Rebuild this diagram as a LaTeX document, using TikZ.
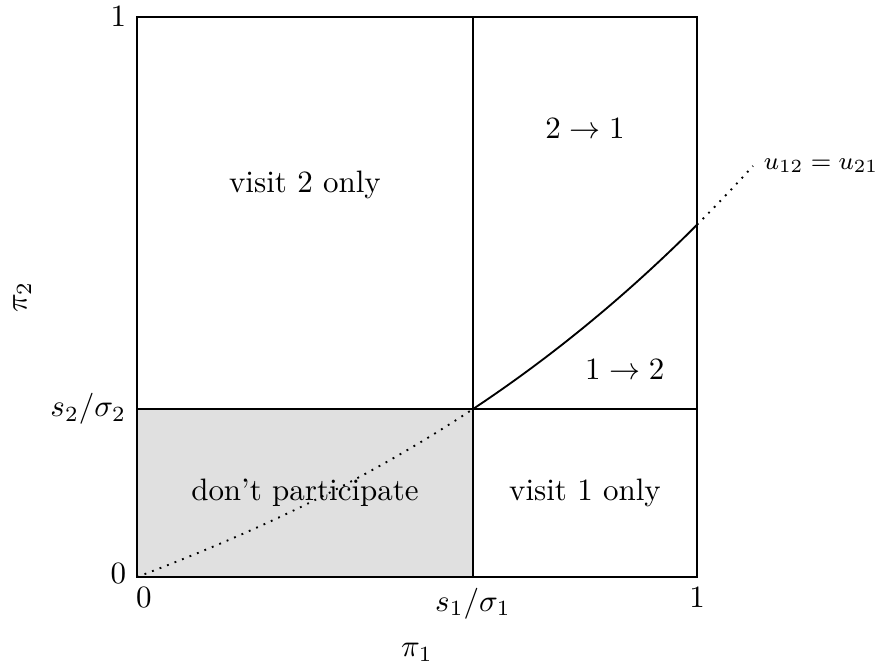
\documentclass[tikz,border=0pt]{standalone}
\usepackage{amsmath,amssymb}
\usepackage{tikz}
\usetikzlibrary{positioning,calc}

\begin{document}
\begin{tikzpicture}[
  x=6.35cm, y=6.35cm,
  declare function={f(\t)=0.38*\t+0.1265*\t^2+0.1225*\t^3;},
  frame/.style={semithick},
  nopart/.style={fill=black!12},
  bound/.style={semithick},
  guess/.style={semithick, dotted},
  region/.style={align=center},
  lbl/.style={font=\footnotesize},
]
  \useasboundingbox (-0.2446,-0.1589) rectangle (1.3196,1.0304);
  \coordinate (O) at (0,0); \coordinate (s1) at (0.6,0); \coordinate (s2) at (0,0.3);
  \coordinate (k) at (0.6,0.3); \coordinate (x1) at (1,0); \coordinate (y1) at (0,1);
  \fill[nopart] (O) rectangle (k);
  \draw[frame] (O) rectangle (1,1);
  \draw[frame] (s1) -- (0.6,1);
  \draw[frame] (s2) -- (1,0.3);
  % indifference curve
  \draw[guess] plot[domain=0:0.6, samples=40] (\x,{f(\x)});
  \draw[bound] plot[domain=0.6:1, samples=40] (\x,{f(\x)});
  \draw[guess] plot[domain=1:1.1, samples=10] (\x,{f(\x)});
  \coordinate (uend) at (1.1,{f(1.1)});
  \node[lbl,right=0pt of uend] (ulbl) {$u_{12}=u_{21}$};
  % regions
  \node[region] (v2) at (0.3,0.7) {visit 2 only};
  \node[region] (t21) at (0.8,0.8) {$2\rightarrow 1$};
  \node[region] (t12) at (0.871,0.37) {$1\rightarrow 2$};
  \node[region] (np) at (0.3,0.15) {don't participate};
  \node[region] (v1) at (0.8,0.15) {visit 1 only};
  % axes
  \node[left] (ly0) at (0,0.006) {$0$}; \node[left] (ly1) at (y1) {$1$};
  \node[left] (ls2) at (s2) {$s_2/\sigma_2$};
  \node[below] (lx0) at (0.0125,0) {$0$}; \node[below] (lx1) at (x1) {$1$};
  \node[below] (ls1) at (s1) {$s_1/\sigma_1$};
  \node (pi1) at (0.5,-0.134) {$\pi_1$};
  \node[rotate=90] (pi2) at (-0.205,0.5) {$\pi_2$};
\end{tikzpicture}
\end{document}
